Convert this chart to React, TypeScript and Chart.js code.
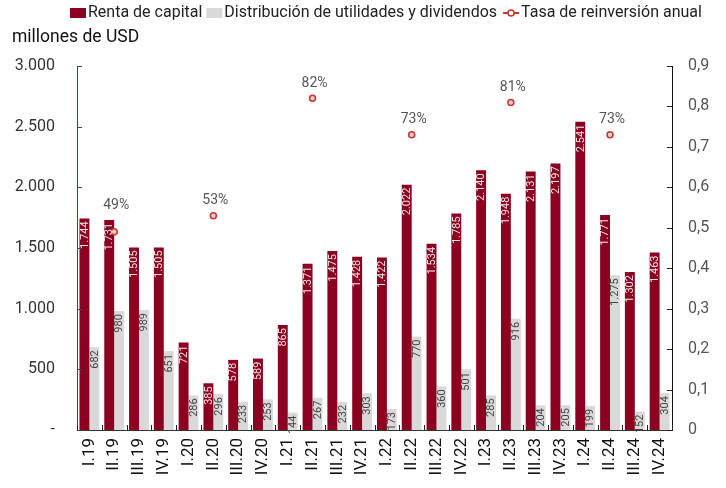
import React, { useEffect, useRef } from "react";
import { Chart, registerables } from "chart.js";

Chart.register(...registerables);

const categories = [
  "I.19", "II.19", "III.19", "IV.19",
  "I.20", "II.20", "III.20", "IV.20",
  "I.21", "II.21", "III.21", "IV.21",
  "I.22", "II.22", "III.22", "IV.22",
  "I.23", "II.23", "III.23", "IV.23",
  "I.24", "II.24", "III.24", "IV.24",
];

const rentaCapital = [
  1744, 1731, 1505, 1505,
  721, 385, 578, 589,
  865, 1371, 1475, 1428,
  1422, 2022, 1534, 1785,
  2140, 1948, 2131, 2197,
  2541, 1771, 1302, 1463,
];

const distribucion = [
  682, 980, 989, 651,
  286, 296, 233, 253,
  144, 267, 232, 303,
  173, 770, 360, 501,
  285, 916, 204, 205,
  199, 1275, 152, 304,
];

const tasaReinversion: (number | null)[] = [
  null, 0.49, null, null,
  null, 0.53, null, null,
  null, 0.82, null, null,
  null, 0.73, null, null,
  null, 0.81, null, null,
  null, 0.73, null, null,
];

const leftTicks = [0, 500, 1000, 1500, 2000, 2500, 3000];
const rightTicks = [0, 0.1, 0.2, 0.3, 0.4, 0.5, 0.6, 0.7, 0.8, 0.9];

const seriesNames = [
  "Renta de capital",
  "Distribución de utilidades y dividendos",
  "Tasa de reinversión anual",
];
const unitTitle = "millones de USD";

const RED = "#8C0020";
const GRAY = "#D9D9D9";
const POINT_RED = "#D42E2E";
const FONT = "Roboto";

const fmtThousands = (v: number) =>
  String(Math.round(v)).replace(/\B(?=(\d{3})+(?!\d))/g, ".");

const customPlugin = {
  id: "custom",
  afterDatasetsDraw(chart: any) {
    const ctx = chart.ctx;
    // bar value labels
    [0, 1].forEach((di) => {
      const meta = chart.getDatasetMeta(di);
      const data = chart.data.datasets[di].data as number[];
      meta.data.forEach((bar: any, i: number) => {
        ctx.save();
        ctx.translate(bar.x, bar.y + 3);
        ctx.rotate(-Math.PI / 2);
        ctx.font = `11px ${FONT}`;
        ctx.fillStyle = di === 0 ? "#F4E6E9" : "#444444";
        ctx.textAlign = "right";
        ctx.textBaseline = "middle";
        ctx.fillText(fmtThousands(data[i]), 0, 0.5);
        ctx.restore();
      });
    });
    // percentage labels (lifted above the bar if they would overlap it)
    const lmeta = chart.getDatasetMeta(2);
    const bmeta = chart.getDatasetMeta(0);
    lmeta.data.forEach((pt: any, i: number) => {
      const v = tasaReinversion[i];
      if (v == null) return;
      let ly = pt.y - 15;
      const barTop = bmeta.data[i].y;
      if (ly + 8 > barTop) ly = barTop - 14;
      ctx.save();
      ctx.font = `14px ${FONT}`;
      ctx.fillStyle = "#555555";
      ctx.textAlign = "center";
      ctx.textBaseline = "middle";
      ctx.fillText(Math.round(v * 100) + "%", pt.x + 2, ly);
      ctx.restore();
    });
  },
  afterDraw(chart: any) {
    const ctx = chart.ctx;
    const { x, y, y1 } = chart.scales;
    const area = chart.chartArea;
    ctx.save();
    ctx.lineWidth = 1;
    // x ticks at category boundaries (inside)
    ctx.strokeStyle = "#222222";
    for (let i = 0; i <= categories.length; i++) {
      let px;
      if (i === 0) px = area.left;
      else if (i === categories.length) px = area.right;
      else px = (x.getPixelForValue(i - 1) + x.getPixelForValue(i)) / 2;
      px = Math.round(px) + 0.5;
      ctx.beginPath();
      ctx.moveTo(px, area.bottom);
      ctx.lineTo(px, area.bottom - 5);
      ctx.stroke();
    }
    // left ticks
    ctx.strokeStyle = "#2E4780";
    leftTicks.forEach((t) => {
      const py = Math.round(y.getPixelForValue(t)) + 0.5;
      ctx.beginPath();
      ctx.moveTo(area.left, py);
      ctx.lineTo(area.left + 5, py);
      ctx.stroke();
    });
    // right ticks
    ctx.strokeStyle = "#222222";
    rightTicks.forEach((t) => {
      const py = Math.round(y1.getPixelForValue(t)) + 0.5;
      ctx.beginPath();
      ctx.moveTo(area.right, py);
      ctx.lineTo(area.right - 5, py);
      ctx.stroke();
    });
    ctx.restore();

    // title
    ctx.save();
    ctx.font = `17.5px ${FONT}`;
    ctx.fillStyle = "#111111";
    ctx.textAlign = "left";
    ctx.textBaseline = "middle";
    ctx.fillText(unitTitle, 12, 38);
    ctx.restore();

    // legend
    ctx.save();
    ctx.font = `16px ${FONT}`;
    ctx.fillStyle = "#222222";
    ctx.textBaseline = "middle";
    ctx.textAlign = "left";
    const ly = 13;
    let lx = 70;
    ctx.fillStyle = RED;
    ctx.fillRect(lx, ly - 5, 16, 10);
    ctx.fillStyle = "#222222";
    ctx.fillText(seriesNames[0], lx + 18, ly);
    lx = lx + 18 + ctx.measureText(seriesNames[0]).width + 4;
    ctx.fillStyle = GRAY;
    ctx.fillRect(lx, ly - 5, 16, 10);
    ctx.fillStyle = "#222222";
    ctx.fillText(seriesNames[1], lx + 18, ly);
    lx = lx + 18 + ctx.measureText(seriesNames[1]).width + 6;
    ctx.strokeStyle = POINT_RED;
    ctx.lineWidth = 2;
    ctx.beginPath();
    ctx.moveTo(lx, ly);
    ctx.lineTo(lx + 16, ly);
    ctx.stroke();
    ctx.beginPath();
    ctx.arc(lx + 8, ly, 3, 0, Math.PI * 2);
    ctx.fillStyle = "#FFFFFF";
    ctx.fill();
    ctx.lineWidth = 1.5;
    ctx.stroke();
    ctx.fillStyle = "#222222";
    ctx.fillText(seriesNames[2], lx + 18, ly);
    ctx.restore();
  },
};

export default function App() {
  const ref = useRef<HTMLCanvasElement>(null);
  useEffect(() => {
    document.body.style.margin = "0";
    const canvas = ref.current!;
    const chart = new Chart(canvas, {
      type: "bar",
      data: {
        labels: categories,
        datasets: [
          {
            type: "bar",
            label: seriesNames[0],
            data: rentaCapital,
            backgroundColor: RED,
            yAxisID: "y",
            categoryPercentage: 0.8,
            barPercentage: 1.0,
            order: 2,
          },
          {
            type: "bar",
            label: seriesNames[1],
            data: distribucion,
            backgroundColor: GRAY,
            yAxisID: "y",
            categoryPercentage: 0.8,
            barPercentage: 1.0,
            order: 2,
          },
          {
            type: "line",
            label: seriesNames[2],
            data: tasaReinversion,
            yAxisID: "y1",
            showLine: false,
            borderColor: POINT_RED,
            backgroundColor: "#D0D0D0",
            pointRadius: 3,
            pointBorderWidth: 1.5,
            pointBorderColor: POINT_RED,
            pointBackgroundColor: "#D0D0D0",
            order: 1,
          } as any,
        ],
      },
      options: {
        animation: false,
        responsive: false,
        maintainAspectRatio: false,
        layout: { padding: { top: 66, left: 0, right: 0, bottom: 0 } },
        plugins: {
          legend: { display: false },
          title: { display: false },
          tooltip: { enabled: false },
        },
        scales: {
          x: {
            offset: true,
            grid: { display: false, drawTicks: false },
            border: { display: true, color: "#333333", width: 1 },
            ticks: {
              autoSkip: false,
              minRotation: 90,
              maxRotation: 90,
              padding: 8,
              color: "#111111",
              font: { family: FONT, size: 17 },
            },
            afterFit: (s: any) => {
              s.height = 58;
            },
          },
          y: {
            position: "left",
            min: 0,
            max: 3000,
            grid: { display: false, drawTicks: false },
            border: { display: true, color: "#2E4780", width: 1 },
            ticks: {
              stepSize: 500,
              padding: 22,
              color: "#333333",
              font: { family: FONT, size: 16 },
              callback: (v: any) => (Number(v) === 0 ? "-" : fmtThousands(Number(v))),
            },
            afterFit: (s: any) => {
              s.width = 77;
            },
          },
          y1: {
            position: "right",
            min: 0,
            max: 0.9,
            grid: { display: false, drawTicks: false },
            border: { display: true, color: "#111111", width: 1 },
            ticks: {
              stepSize: 0.1,
              padding: 16,
              color: "#555555",
              font: { family: FONT, size: 16 },
              callback: (v: any) => {
                const n = Number(v);
                return n === 0 ? "0" : n.toFixed(1).replace(".", ",");
              },
            },
            afterFit: (s: any) => {
              s.width = 54;
            },
          },
        },
      },
      plugins: [customPlugin],
    });
    return () => chart.destroy();
  }, []);
  return (
    <div style={{ width: 726, height: 488 }}>
      <canvas ref={ref} width={726} height={488} style={{ display: "block" }} />
    </div>
  );
}
